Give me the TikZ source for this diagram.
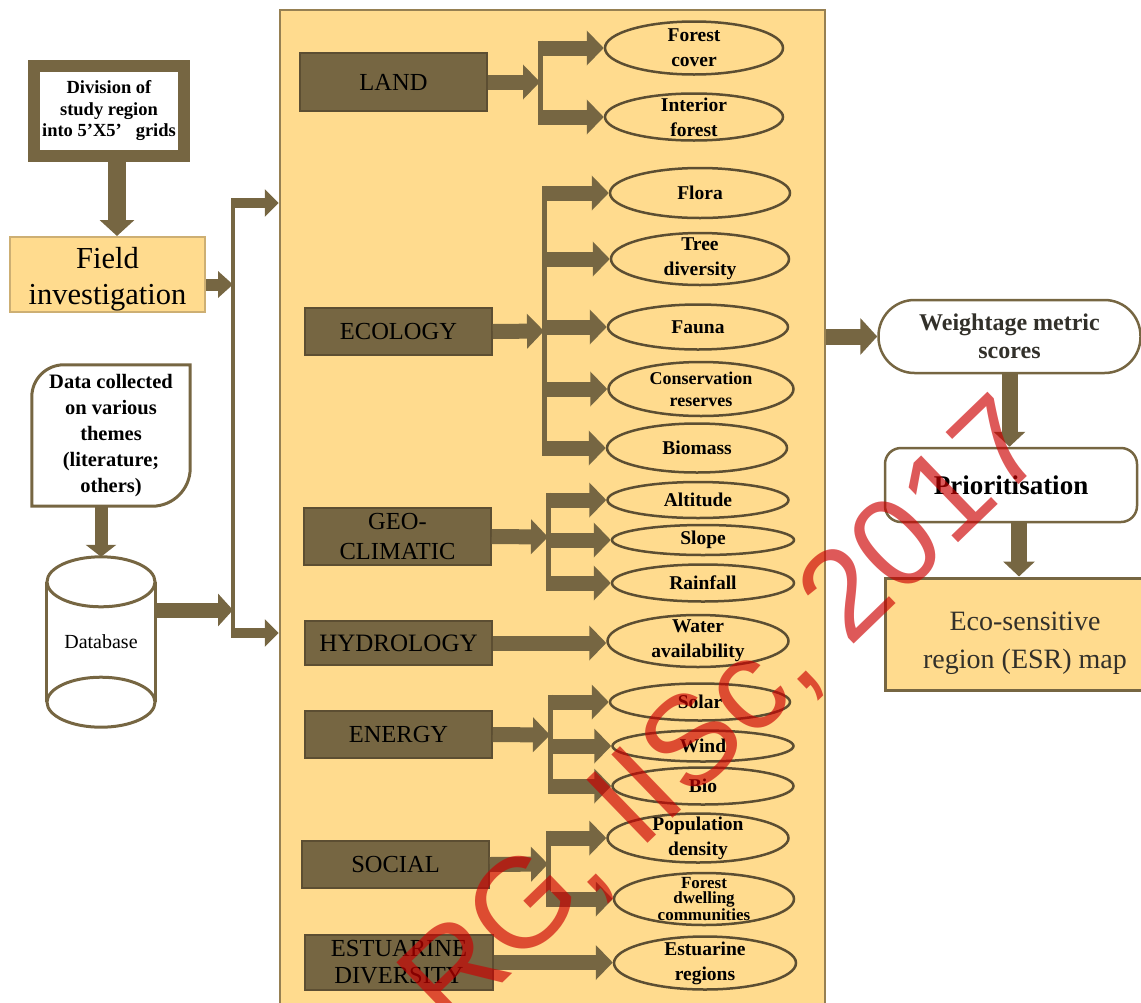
\documentclass[tikz,border=0pt]{standalone}
\usepackage{fontspec}
\setmainfont{Liberation Serif}
\newfontfamily\stampfont{Liberation Sans}
\usetikzlibrary{shapes.geometric,arrows.meta}
\definecolor{paneltan}{RGB}{255,219,142}
\definecolor{boxbrown}{RGB}{118,102,66}
\definecolor{edgebrown}{RGB}{92,78,50}
\definecolor{paneledge}{RGB}{150,128,82}
\definecolor{fieldedge}{RGB}{205,175,115}
\definecolor{textgray}{RGB}{50,48,42}
\definecolor{stampred}{RGB}{204,0,0}
\begin{document}
\begin{tikzpicture}[x=1pt, y=-1pt,
  theme/.style = {rectangle, fill=boxbrown, draw=edgebrown, line width=1.5pt,
    inner sep=0pt, minimum width=187pt, align=center,
    font=\fontsize{24.5}{30}\selectfont},
  leaf/.style = {ellipse, draw=edgebrown, line width=2.5pt, inner sep=0pt,
    minimum width=180pt},
  leaftext/.style = {align=center, inner sep=0pt,
    font=\bfseries\fontsize{19.5}{25}\selectfont},
  fat/.style = {draw=boxbrown, line width=15pt,
    -{Triangle[length=17pt,width=34pt]}},
  slim/.style = {draw=boxbrown, line width=10pt,
    -{Triangle[length=14pt,width=27pt]}},
  bar/.style = {draw=boxbrown, line width=5pt,
    shorten <=-7.5pt, shorten >=-7.5pt},
  outline/.style = {draw=boxbrown, line width=3pt}]
  \useasboundingbox (0,0) rectangle (1141,1002);

  \node[fill=paneltan, draw=paneledge, line width=2.5pt, inner sep=0pt,
    minimum width=545pt, minimum height=1005pt] (panel) at (552.5,512.5) {};

  \node[draw=boxbrown, line width=12pt, fill=white, minimum width=150pt,
    minimum height=90pt, inner sep=0pt, align=center,
    font=\bfseries\fontsize{18.5}{21.5}\selectfont] (division) at (109,111)
    {Division of\\study region\\into 5’X5’\hspace{14pt}grids};
  \node[fill=paneltan, draw=fieldedge, line width=2pt, minimum width=195pt,
    minimum height=75pt, inner sep=0pt, align=center,
    font=\fontsize{30.5}{36}\selectfont] (field) at (107.5,274.5)
    {\rule{0pt}{31pt}Field\\investigation};
  \node[minimum width=158pt, minimum height=141pt, inner sep=0pt, align=center,
    font=\bfseries\fontsize{20.5}{26}\selectfont] (data) at (111,435.5)
    {Data collected\\on various\\themes\\(literature;\\others)};
  \draw[outline] (data.south west) -- ([yshift=-32pt]data.north west)
    arc[start angle=180, end angle=90, radius=32pt] -- (data.north east)
    -- ([yshift=38pt]data.south east)
    arc[start angle=0, end angle=-90, radius=38pt] -- cycle;
  \node[minimum width=108pt, minimum height=170pt, inner sep=0pt,
    font=\fontsize{20}{24}\selectfont] (db) at (101,642) {Database};
  \draw[outline] ([yshift=-25pt]db.north) ellipse[x radius=54pt, y radius=25pt];
  \draw[outline] ([yshift=25pt]db.south) ellipse[x radius=54pt, y radius=25pt];
  \draw[outline] ([yshift=-25pt]db.north west) -- ([yshift=25pt]db.south west);
  \draw[outline] ([yshift=-25pt]db.north east) -- ([yshift=25pt]db.south east);

  \coordinate (hubtop) at (233,203);
  \coordinate (hubbot) at (233,633);
  \coordinate (divout) at ([xshift=8pt]division.south);
  \coordinate (fieldin) at ([yshift=-10pt]field.east);
  \coordinate (dbout) at ([yshift=32pt]db.east);
  \draw[draw=boxbrown, line width=3.5pt, shorten <=-5pt, shorten >=-5pt]
    (hubtop) -- (hubbot);
  \draw[draw=boxbrown, line width=18pt, -{Triangle[length=16pt,width=34pt]}]
    (divout) -- (divout |- field.north);
  \draw[draw=boxbrown, line width=13pt, -{Triangle[length=12pt,width=30pt]}]
    (data.south -| db.north) -- (db.north);
  \draw[draw=boxbrown, line width=12pt, -{Triangle[length=15pt,width=26pt]}]
    (fieldin) -- (hubtop |- fieldin);
  \draw[draw=boxbrown, line width=15pt, -{Triangle[length=15pt,width=32pt]}]
    (dbout) -- (hubtop |- dbout);
  \draw[slim] (hubtop) -- (hubtop -| panel.west);
  \draw[slim] (hubbot) -- (hubbot -| panel.west);

  \node[theme] (land) at (393.5,82) [minimum height=58pt] {LAND};
  \node[theme] (ecology) at (398.5,331.5) [minimum height=47pt] {ECOLOGY};
  \node[theme, font=\fontsize{24.5}{31}\selectfont] (geoclim) at (397.5,536.5)
    [minimum height=57pt] {GEO-\\CLIMATIC};
  \node[theme, font=\fontsize{25}{30}\selectfont] (hydrology) at (398.5,643)
    [minimum height=44pt] {HYDROLOGY};
  \node[theme] (energy) at (398.5,734.5) [minimum height=47pt] {ENERGY};
  \node[theme] (social) at (395.5,864.5) [minimum height=47pt] {SOCIAL};
  \node[theme, font=\fontsize{24.5}{27}\selectfont] (estuarine) at (399,962.5)
    [minimum height=55pt, minimum width=188pt] {ESTUARINE\\DIVERSITY};

  \node[leaf, minimum width=178pt, minimum height=53pt,
    label={[leaftext]center:Forest\\cover}] (forestcover) at (694,48) {};
  \node[leaf, minimum width=178pt, minimum height=47pt,
    label={[leaftext]center:Interior\\forest}] (interior) at (694,117) {};
  \node[leaf, minimum height=50pt,
    label={[leaftext]center:Flora}] (flora) at (700,193) {};
  \node[leaf, minimum width=178pt, minimum height=52pt,
    label={[leaftext]center:Tree\\diversity}] (treediv) at (700,259) {};
  \node[leaf, minimum height=45pt,
    label={[leaftext]center:Fauna}] (fauna) at (698,327) {};
  \node[leaf, minimum width=185pt, minimum height=54pt,
    label={[leaftext, font=\bfseries\fontsize{18}{22}\selectfont]center:Conservation\\reserves}]
    (conserv) at (701,389) {};
  \node[leaf, minimum height=49pt,
    label={[leaftext]center:Biomass}] (biomass) at (697,448) {};
  \node[leaf, minimum width=181pt, minimum height=36pt,
    label={[leaftext]center:Altitude}] (altitude) at (698,500) {};
  \node[leaf, minimum width=182pt, minimum height=30pt,
    label={[leaftext]center:Slope}] (slope) at (703,540) {};
  \node[leaf, minimum width=182pt, minimum height=37pt,
    label={[leaftext]center:Rainfall}] (rainfall) at (703,583) {};
  \node[leaf, minimum width=181pt, minimum height=52pt,
    label={[leaftext]center:Water\\availability}] (water) at (698,641) {};
  \node[leaf, minimum height=37pt,
    label={[leaftext]center:Solar}] (solar) at (700,702) {};
  \node[leaf, minimum width=181pt, minimum height=31pt,
    label={[leaftext]center:Wind}] (wind) at (703,746) {};
  \node[leaf, minimum width=181pt, minimum height=37pt,
    label={[leaftext]center:Bio}] (bio) at (703,786) {};
  \node[leaf, minimum width=181pt, minimum height=49pt,
    label={[leaftext]center:Population\\density}] (popdensity) at (698,838) {};
  \node[leaf, minimum height=52pt,
    label={[leaftext, font=\bfseries\fontsize{17}{15.5}\selectfont]center:Forest\\dwelling\\communities}]
    (dwelling) at (704,899) {};
  \node[leaf, minimum width=182pt, minimum height=53pt,
    label={[leaftext]center:Estuarine\\regions}] (estregions) at (705,963) {};

  \coordinate (landhub) at (540,82);
  \coordinate (ecohub) at (544,331);
  \coordinate (geohub) at (548,537);
  \coordinate (energyhub) at (550,735);
  \coordinate (socialhub) at (548,864);

  \draw[bar] (landhub |- forestcover) -- (landhub |- interior);
  \draw[fat] (land.east) -- (landhub);
  \foreach \leafname in {forestcover,interior}
    \draw[fat] (landhub |- \leafname) -- (\leafname.west);
  \draw[bar] (ecohub |- flora) -- (ecohub |- biomass);
  \draw[fat] (ecology.east) -- (ecohub);
  \foreach \leafname in {flora,treediv,fauna,conserv,biomass}
    \draw[fat] (ecohub |- \leafname) -- (\leafname.west);
  \draw[bar] (geohub |- altitude) -- (geohub |- rainfall);
  \draw[fat] (geoclim.east) -- (geohub);
  \foreach \leafname in {altitude,slope,rainfall}
    \draw[fat] (geohub |- \leafname) -- (\leafname.west);
  \draw[fat] (hydrology.east) -- (hydrology.east -| water.west);
  \draw[bar] (energyhub |- solar) -- (energyhub |- bio);
  \draw[fat] (energy.east) -- (energyhub);
  \foreach \leafname in {solar,wind,bio}
    \draw[fat] (energyhub |- \leafname) -- (\leafname.west);
  \draw[bar] (socialhub |- popdensity) -- (socialhub |- dwelling);
  \draw[fat] (social.east) -- (socialhub);
  \foreach \leafname in {popdensity,dwelling}
    \draw[fat] (socialhub |- \leafname) -- (\leafname.west);
  \draw[fat] (estuarine.east) -- (estuarine.east -| estregions.west);

  \node[rectangle, rounded corners=36pt, draw=boxbrown, line width=2.5pt,
    fill=white, minimum width=262pt, minimum height=73pt, inner sep=0pt,
    align=center, text=textgray, font=\bfseries\fontsize{24}{28}\selectfont]
    (weightage) at (1009.5,336.5) {Weightage metric\\scores};
  \node[rectangle, rounded corners=16pt, draw=boxbrown, line width=2.5pt,
    fill=white, minimum width=252pt, minimum height=74pt, inner sep=0pt,
    font=\bfseries\fontsize{27}{30}\selectfont] (prior) at (1011,485)
    {Prioritisation};
  \node[rectangle, fill=paneltan, draw=boxbrown, line width=3pt,
    minimum width=280pt, minimum height=112pt, inner sep=0pt, align=center,
    text=textgray, font=\fontsize{28}{38}\selectfont] (esr) at (1025,634)
    {\rule{0pt}{37pt}Eco-sensitive\\region (ESR) map};
  \coordinate (priorout) at ([xshift=8pt]prior.south);
  \draw[fat, line width=16pt, -{Triangle[length=17pt,width=36pt]}]
    (panel.east |- weightage) -- (weightage.west);
  \draw[fat, line width=16pt, -{Triangle[length=15pt,width=31pt]}]
    (weightage.south) -- (weightage.south |- prior.north);
  \draw[fat, line width=16pt, -{Triangle[length=15pt,width=31pt]}]
    (priorout) -- (priorout |- esr.north);

  \node[rotate=44, anchor=base west, inner sep=0pt, text=stampred,
    text opacity=0.65, font=\stampfont\fontsize{128}{128}\selectfont]
    (stamp) at (450,1034) {RG, IISc, 2017};
\end{tikzpicture}
\end{document}
